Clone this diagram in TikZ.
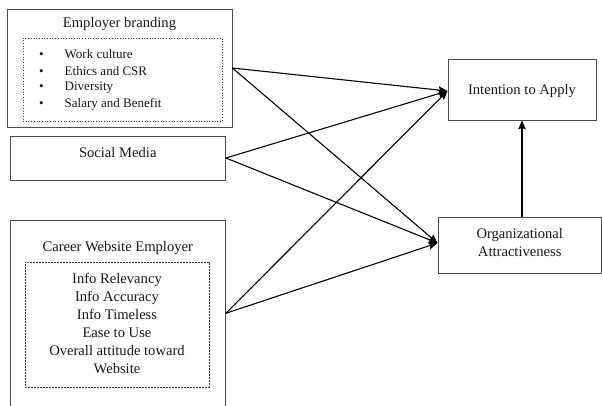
\documentclass[tikz,border=0pt]{standalone}
\usepackage{fontspec}
\setmainfont{Liberation Serif}
\usetikzlibrary{arrows.meta}
\begin{document}
\begin{tikzpicture}[x=1pt,y=-1pt,
  box/.style={draw=black!70, line width=0.8pt, inner sep=0pt},
  inbox/.style={draw=black!75, line width=0.7pt, inner sep=0pt},
  big/.style={font=\fontsize{14.6}{18}\selectfont, text=black!90, inner sep=0pt, align=center},
  small/.style={font=\fontsize{13}{16.5}\selectfont, text=black!90, inner sep=0pt},
  link/.style={line width=1.1pt, -{Stealth[length=9pt,width=7.5pt,inset=1.5pt]}}]
\useasboundingbox (0,0) rectangle (602,405);
\fill[white] (0,0) rectangle (602,405);
% Employer branding
\node[box, minimum width=225pt, minimum height=118pt] (eb) at (119.5,68) {};
\node[big] (ebt) at (119.5,24) {Employer branding};
\node[inbox, dotted, minimum width=199pt, minimum height=83pt] (ebi) at (122.5,79.5) {};
\node[small, anchor=west] (b1) at (39,54.5) {\textbullet\hspace{21pt}Work culture};
\node[small, anchor=west] (b2) at (39,71) {\textbullet\hspace{21pt}Ethics and CSR};
\node[small, anchor=west] (b3) at (39,88) {\textbullet\hspace{21pt}Diversity};
\node[small, anchor=west] (b4) at (39,104) {\textbullet\hspace{21pt}Salary and Benefit};
% Social media
\node[box, minimum width=215.5pt, minimum height=44pt] (sm) at (117.75,158) {};
\node[big] (smt) at (117.75,153) {Social Media};
% Career website
\node[box, minimum width=215.5pt, minimum height=185.5pt] (cw) at (117.75,313.25) {};
\node[big] (cwt) at (117.75,248) {Career Website Employer};
\node[inbox, dashed, dash pattern=on 2pt off 1pt, minimum width=184pt, minimum height=125pt] (cwi) at (117,324.5) {};
\node[big] (cwl) at (117,323) {Info Relevancy\\Info Accuracy\\Info Timeless\\Ease to Use\\Overall attitude toward\\Website};
% Outcomes
\node[box, minimum width=148pt, minimum height=61pt] (ia) at (522,89.5) {};
\node[big] (iat) at (522,91) {Intention to Apply};
\node[box, minimum width=163.5pt, minimum height=56pt] (oa) at (519.75,245) {};
\node[big] (oat) at (519.75,242) {Organizational\\Attractiveness};
% Connectors
\coordinate (iin) at (447.5,91);
\coordinate (oin) at (437.5,243);
\draw[link] (eb.east) -- (iin);
\draw[link] (eb.east) -- (oin);
\draw[link] (sm.east) -- (iin);
\draw[link] (sm.east) -- (oin);
\draw[link] (cw.east) -- (iin);
\draw[link] (cw.east) -- (oin);
\draw[link] (oa.north -| ia.south) -- (ia.south);
\end{tikzpicture}
\end{document}
